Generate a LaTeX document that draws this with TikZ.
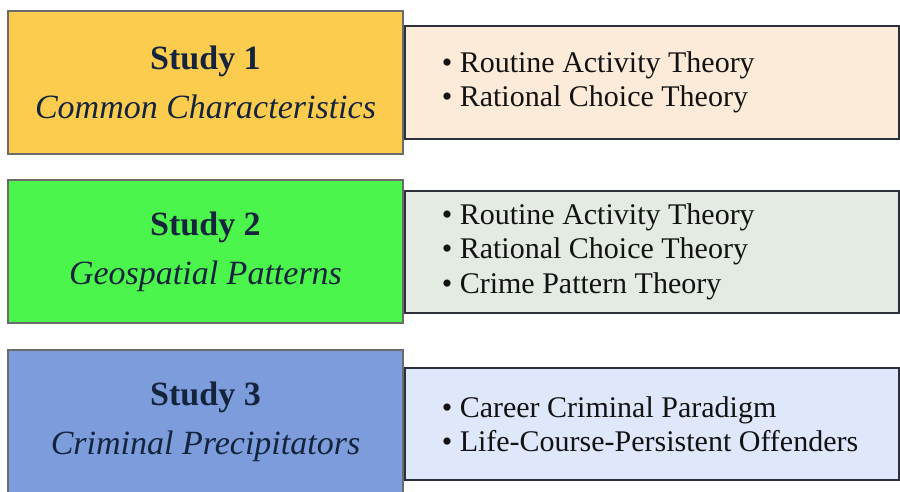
\documentclass[tikz,border=0pt]{standalone}
\usepackage{fontspec}
\setmainfont{Liberation Serif}
\usetikzlibrary{positioning}

\definecolor{cbs}{rgb}{0.42,0.42,0.42}
\definecolor{cbt}{rgb}{0.17,0.19,0.23}
\definecolor{cls}{rgb}{0.08,0.14,0.24}
\definecolor{clt}{rgb}{0.07,0.07,0.07}

\tikzset{
  study/.style={draw=cbs, line width=1.5pt, minimum width=395pt, minimum height=143pt,
    inner sep=0pt, align=center, text=cls, font=\fontsize{34}{49}\selectfont},
  theories/.style={draw=cbt, line width=2pt, minimum width=494pt, text width=420pt,
    inner xsep=37pt, inner ysep=0pt, align=flush left, text=clt, font=\fontsize{30}{34.5}\selectfont},
}

\begin{document}
\begin{tikzpicture}[x=1pt,y=-1pt]
%
\useasboundingbox (0,0) rectangle (900,491);
%
\definecolor{cfs1}{rgb}{0.99,0.80,0.31}
\definecolor{cft1}{rgb}{0.99,0.92,0.85}
\definecolor{cfs2}{rgb}{0.30,0.96,0.30}
\definecolor{cft2}{rgb}{0.89,0.92,0.89}
\definecolor{cfs3}{rgb}{0.49,0.61,0.86}
\definecolor{cft3}{rgb}{0.87,0.91,0.98}
%
\node[study,fill=cfs1] (s1) at (205.5,82.5) {\textbf{Study 1}\\\textit{Common Characteristics}};
\node[study,fill=cfs2] (s2) at (205.5,251.5) {\textbf{Study 2}\\\textit{Geospatial Patterns}};
\node[study,fill=cfs3] (s3) at (205.5,421.5) {\textbf{Study 3}\\\textit{Criminal Precipitators}};
%
\node[theories,fill=cft1,minimum height=113pt,right=0pt of s1] (t1)
  {• Routine Activity Theory\\• Rational Choice Theory};
\node[theories,fill=cft2,minimum height=122pt,right=0pt of s2] (t2)
  {• Routine Activity Theory\\• Rational Choice Theory\\• Crime Pattern Theory};
\node[theories,fill=cft3,minimum height=112pt,right=0pt of s3,yshift=-2.5pt] (t3)
  {• Career Criminal Paradigm\\• Life-Course-Persistent Offenders};
%
\end{tikzpicture}
\end{document}
